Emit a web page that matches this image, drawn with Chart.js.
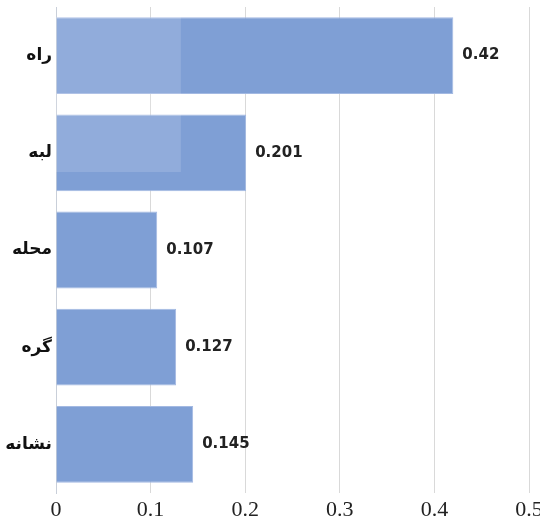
<!DOCTYPE html>
<html>
<head>
<meta charset="utf-8">
<script src="https://cdn.jsdelivr.net/npm/chart.js@4"></script>
<style>
  html, body { margin: 0; padding: 0; background: #fff; }
  #wrap { width: 540px; height: 519px; }
</style>
</head>
<body>
<div id="wrap"><canvas id="barChart"></canvas></div>
<script>
// Chart data
const categories = ["راه", "لبه", "محله", "گره", "نشانه"];
const values = [0.42, 0.201, 0.107, 0.127, 0.145];
const xTicks = [0, 0.1, 0.2, 0.3, 0.4, 0.5];

// Draw value labels at the end of each bar
const valueLabels = {
    id: "valueLabels",
    afterDatasetsDraw(chart) {
        const ctx = chart.ctx;
        const meta = chart.getDatasetMeta(0);
        ctx.save();
        ctx.font = "bold 15px 'DejaVu Sans'";
        ctx.fillStyle = "#222";
        ctx.textAlign = "left";
        ctx.textBaseline = "middle";
        meta.data.forEach((bar, i) => {
            ctx.fillText(String(values[i]), bar.x + 9, bar.y);
        });
        ctx.restore();
    }
};

// Light patch over the top-left (scan watermark)
const watermark = {
    id: "watermark",
    afterDatasetsDraw(chart) {
        const ctx = chart.ctx;
        const x = chart.scales.x;
        const area = chart.chartArea;
        ctx.save();
        ctx.fillStyle = "rgba(255,255,255,0.14)";
        ctx.fillRect(x.getPixelForValue(0), area.top + 10, x.getPixelForValue(0.132) - x.getPixelForValue(0), 155);
        ctx.restore();
    }
};

const ctx = document.getElementById("barChart").getContext("2d");
new Chart(ctx, {
    type: "bar",
    data: {
        labels: categories,
        datasets: [{
            data: values,
            backgroundColor: "#7f9fd5",
            borderColor: "#a3b9e2",
            borderWidth: 1,
            categoryPercentage: 0.79,
            barPercentage: 1
        }]
    },
    options: {
        indexAxis: "y",
        responsive: true,
        maintainAspectRatio: false,
        animation: false,
        layout: { padding: { top: 7, right: 11, left: 0, bottom: 0 } },
        plugins: {
            legend: { display: false },
            tooltip: { enabled: false }
        },
        scales: {
            x: {
                min: 0,
                max: 0.5,
                afterBuildTicks: scale => {
                    scale.ticks = xTicks.map(v => ({ value: v }));
                },
                afterFit: scale => {
                    scale.height = 26;
                    scale.paddingLeft = 0;
                    scale.paddingRight = 0;
                },
                grid: { color: "#d9d9d9", drawTicks: false },
                border: { display: false },
                ticks: {
                    padding: 4,
                    color: "#222",
                    font: { family: "'Liberation Serif'", size: 22 },
                    callback: v => String(v)
                }
            },
            y: {
                afterFit: scale => {
                    scale.width = 56;
                    scale.paddingTop = 0;
                    scale.paddingBottom = 0;
                },
                grid: { display: false, drawTicks: false },
                border: { display: true, color: "#c9cfd9" },
                ticks: {
                    padding: 4,
                    color: "#111",
                    font: { family: "'DejaVu Sans'", size: 17, weight: "bold" }
                }
            }
        }
    },
    plugins: [valueLabels, watermark]
});
</script>
</body>
</html>
